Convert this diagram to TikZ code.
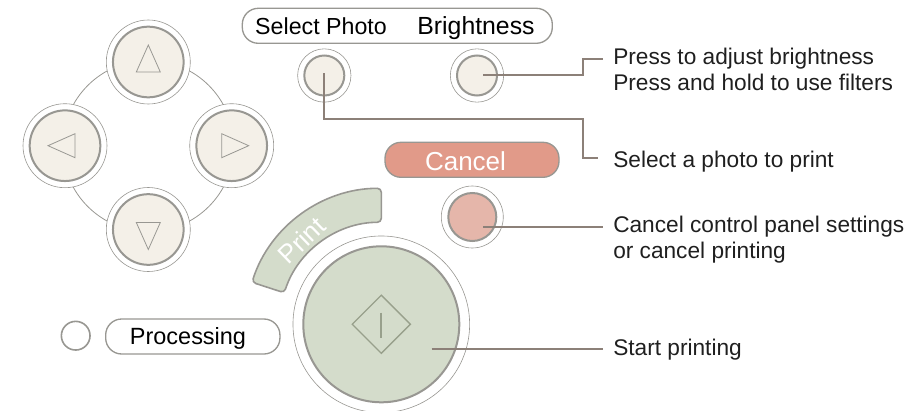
\documentclass[tikz,border=0pt]{standalone}
\usepackage{fontspec}
\setmainfont{Liberation Sans}
\usetikzlibrary{shapes,positioning}
\definecolor{padcream}{HTML}{F4F0E8}
\definecolor{padring}{HTML}{989792}
\definecolor{leadgray}{HTML}{8C8078}
\definecolor{printgreen}{HTML}{D4DCCB}
\definecolor{markgreen}{HTML}{98A08C}
\definecolor{cancelred}{HTML}{E19A89}
\definecolor{cancelpink}{HTML}{E5B6AA}
\tikzset{
  thinring/.style={circle,draw=padring,fill=white,line width=0.45pt,inner sep=0pt,minimum size=#1},
  keycap/.style={circle,draw=padring,line width=1.5pt,inner sep=0pt,minimum size=#1},
  pill/.style={rectangle,draw=padring,line width=1pt,inner sep=0pt,rounded corners=12pt},
  arrowmark/.style={draw=padring,line width=0.6pt},
  leader/.style={draw=leadgray,line width=1.5pt},
  keylabel/.style={font=\fontsize{17.6}{20}\selectfont,text=black,inner sep=0pt,anchor=base},
  calltext/.style={font=\fontsize{17}{19.2}\selectfont,text=black!88,inner sep=0pt,anchor=base west,align=left}
}
\begin{document}
\begin{tikzpicture}[x=0.75pt,y=-0.75pt]
\useasboundingbox (0,0) rectangle (919,410);

\draw[padring,line width=0.6pt] (148.3,146) circle[radius=85.6];

\foreach \pname/\px/\py/\ang/\ty in {padup/148.3/62/0/62,padleft/65/145.7/90/145.7,padright/231.7/145.7/-90/145.7,paddown/148.3/229.5/180/232.5}{
  \node[thinring=63pt] (\pname) at (\px,\py) {};
  \node[keycap=53pt,fill=padcream] (\pname cap) at (\px,\py) {};
  \draw[arrowmark,rotate around={\ang:(\px,\ty)}] (\px,\ty-17) -- (\px+12,\ty+10) -- (\px-12,\ty+10) -- cycle;
}

% top row
\node[pill,minimum width=232.5pt,minimum height=26.25pt] (toppill) at (397.3,25.8) {};
\node[keylabel,font=\fontsize{17.4}{20}\selectfont] (selectlabel) at (321,35) {Select Photo};
\node[keylabel,font=\fontsize{18.6}{20}\selectfont] (brightlabel) at (476,35) {Brightness};
\node[thinring=40pt] (selectring) at (324.3,75.5) {};
\node[keycap=30pt,fill=padcream] (selectcap) at (324.3,75.5) {};
\node[thinring=40pt] (brightring) at (477,75.5) {};
\node[keycap=30pt,fill=padcream] (brightcap) at (477,75.5) {};

% cancel
\node[pill,fill=cancelred,minimum width=130.5pt,minimum height=26.25pt] (cancelpill) at (472,159.8) {};
\node[keylabel,font=\fontsize{19.5}{22}\selectfont,text=white] (cancellabel) at (465.5,170) {Cancel};
\node[thinring=46.5pt] (cancelring) at (472.3,217) {};
\node[keycap=36pt,fill=cancelpink] (cancelcap) at (472.3,217) {};

% print
\draw[draw=padring,fill=printgreen,line width=1.2pt,rounded corners=3pt,shift={(381.3,324.3)}]
  (270:136) arc[start angle=270,end angle=198,radius=136] -- (198:102) arc[start angle=198,end angle=270,radius=102] -- cycle;
\node[keylabel,font=\fontsize{19.5}{22}\selectfont,text=white,rotate=44,anchor=center] (printlabel) at (301.5,240) {Print};
\node[thinring=132.5pt] (printring) at (381.3,324.3) {};
\node[keycap=117pt,fill=printgreen] (printcap) at (381.3,324.3) {};
\node[diamond,draw=markgreen,line width=1pt,aspect=1,inner sep=0pt,minimum size=44pt] (printmark) at (381.3,324.3) {};
\coordinate (bartop) at (381.3,312.7);
\coordinate (barbot) at (381.3,338.3);
\draw[draw=markgreen,line width=1.5pt] (bartop) -- (barbot);

% processing
\node[circle,draw=padring,line width=1.2pt,inner sep=0pt,minimum size=21.5pt] (proclamp) at (75.7,335.7) {};
\node[pill,minimum width=130.7pt,minimum height=26.25pt] (procpill) at (192.8,336.5) {};
\node[keylabel] (proclabel) at (188,344.5) {Processing};

% leaders
\coordinate (brightin) at (483.3,74.5);
\coordinate (brightjog) at (583,74.5);
\coordinate (brightend) at (602.7,58.7);
\coordinate (selectin) at (324.3,73);
\coordinate (selectjog) at (583,119);
\coordinate (selectend) at (598.3,158);
\coordinate (cancelin) at (483.3,226.5);
\coordinate (cancelend) at (602.7,226.5);
\coordinate (printin) at (431.7,349);
\coordinate (printend) at (602.7,349);
\draw[leader] (brightin) -- (brightjog) |- (brightend);
\draw[leader] (selectin) |- (selectjog) |- (selectend);
\draw[leader] (cancelin) -- (cancelend);
\draw[leader] (printin) -- (printend);

\node[calltext] (brighttext) at (613,90) {Press to adjust brightness\\Press and hold to use filters};
\node[calltext] (selecttext) at (613,167) {Select a photo to print};
\node[calltext] (canceltext) at (613,258) {Cancel control panel settings\\or cancel printing};
\node[calltext] (printtext) at (613,355) {Start printing};
\end{tikzpicture}
\end{document}
